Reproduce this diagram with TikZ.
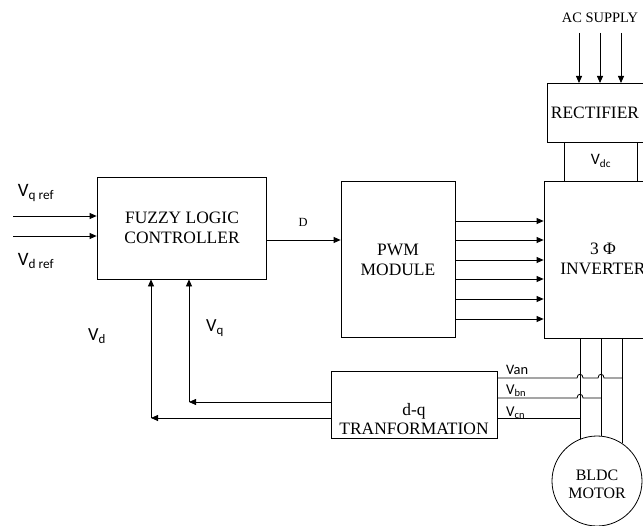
\documentclass[tikz,border=0pt]{standalone}
\usepackage{fontspec}
\setmainfont{Liberation Serif}
\newfontfamily\calib{Carlito}
\usetikzlibrary{arrows.meta}
\tikzset{
  blk/.style={draw, line width=0.8bp, rectangle, inner sep=0pt},
  arr/.style={line width=0.8bp, -{Triangle[length=7bp,width=6bp]}},
  ln/.style={line width=0.8bp},
  serif/.style={font=\fontsize{17.5}{20}\selectfont, align=center, inner sep=0pt},
  sans/.style={font=\calib\fontsize{19}{21}\selectfont, inner sep=0pt},
  small/.style={font=\calib\fontsize{15}{17}\selectfont, inner sep=0pt},
}
\begin{document}
\begin{tikzpicture}[x=1bp,y=-1bp]
\clip (0,0) rectangle (643,526);
\fill[white] (0,0) rectangle (643,526);

% blocks
\node[blk, minimum width=169bp, minimum height=102bp] (flc) at (181.5,228) {};
\node[serif] (flct) at (182,228) {FUZZY LOGIC\\CONTROLLER};
\node[blk, minimum width=114bp, minimum height=156bp] (pwm) at (398,259) {};
\node[serif] (pwmt) at (398,260) {PWM\\MODULE};
\node[blk, minimum width=120bp, minimum height=157bp] (inv) at (604,259.5) {};
\node[serif] (invt) at (603,259) {3 Φ\\INVERTER};
\node[blk, minimum width=120bp, minimum height=59bp, anchor=north west] (rect) at (547,83) {};
\node[serif] (rectt) at (595,113) {RECTIFIER};
\node[blk, minimum width=166bp, minimum height=67bp] (dq) at (414,404.5) {};
\node[serif] (dqt) at (414,419) {d-q\\TRANFORMATION};
\node[draw, circle, line width=0.8bp, minimum size=90bp, inner sep=0pt] (mot) at (597,481) {};
\node[serif, font=\fontsize{16}{18}\selectfont] (mott) at (597,484) {BLDC\\MOTOR};

% AC supply
\node[font=\fontsize{14.5}{16}\selectfont, inner sep=0pt] (ac) at (600,18) {AC SUPPLY};
\coordinate (ac1) at (579,33);
\coordinate (ac2) at (600,33);
\coordinate (ac3) at (621,33);
\foreach \c in {ac1,ac2,ac3} \draw[arr] (\c) -- (rect.north -| \c);

% Vdc link
\coordinate (vl) at (564,0);
\coordinate (vr) at (637,0);
\draw[ln] (rect.south -| vl) -- (inv.north -| vl);
\draw[ln] (rect.south -| vr) -- (inv.north -| vr);
\node[small, font=\calib\fontsize{16}{18}\selectfont] (vdc) at (601,161) {V\textsubscript{dc}};

% inputs
\coordinate (in1) at (13,216);
\coordinate (in2) at (13,236);
\draw[arr] (in1) -- (flc.west |- in1);
\draw[arr] (in2) -- (flc.west |- in2);
\node[sans] (vqref) at (36,193) {V\textsubscript{q ref}};
\node[sans] (vdref) at (36,261) {V\textsubscript{d ref}};

% D
\coordinate (dy) at (0,240);
\draw[arr] (flc.east |- dy) -- (pwm.west |- dy);
\node[font=\fontsize{12.5}{14}\selectfont, inner sep=0pt] (dl) at (303,222) {D};

% PWM to inverter
\foreach \y in {221,240,260,279,299,319} {
  \coordinate (p\y) at (0,\y);
  \draw[arr] (pwm.east |- p\y) -- (inv.west |- p\y);
}

% phases to motor
\draw[ln] (mot.112.2) -- (mot.112.2 |- inv.south);
\draw[ln] (mot.84.9) -- (mot.84.9 |- inv.south);
\draw[ln] (mot.56.2) -- (mot.56.2 |- inv.south);

% measured voltages with hops
\draw[ln] (dq.east |- 0,378) -- (577,378) .. controls (577,373) and (583,373) .. (583,378)
  -- (598,378) .. controls (598,373) and (604,373) .. (604,378) -- (622,378);
\draw[ln] (dq.east |- 0,398) -- (577,398) .. controls (577,393) and (583,393) .. (583,398) -- (601,398);
\draw[ln] (dq.east |- 0,418) -- (580,418);
\node[small, font=\calib\fontsize{14.5}{16}\selectfont, anchor=west] (van) at (506,370) {Van};
\node[small, anchor=west] (vbn) at (506,391) {V\textsubscript{bn}};
\node[small, anchor=west] (vcn) at (506,413) {V\textsubscript{cn}};

% feedback
\coordinate (fq) at (189,402);
\coordinate (fd) at (151,418);
\draw[arr] (dq.west |- fq) -- (fq);
\draw[arr] (fq) -- (fq |- flc.south);
\draw[arr] (dq.west |- fd) -- (fd);
\draw[arr] (fd) -- (fd |- flc.south);
\node[sans, font=\calib\fontsize{18.5}{20}\selectfont] (vd) at (97,336) {V\textsubscript{d}};
\node[sans, font=\calib\fontsize{18.5}{20}\selectfont] (vq) at (215,328) {V\textsubscript{q}};
\end{tikzpicture}
\end{document}
